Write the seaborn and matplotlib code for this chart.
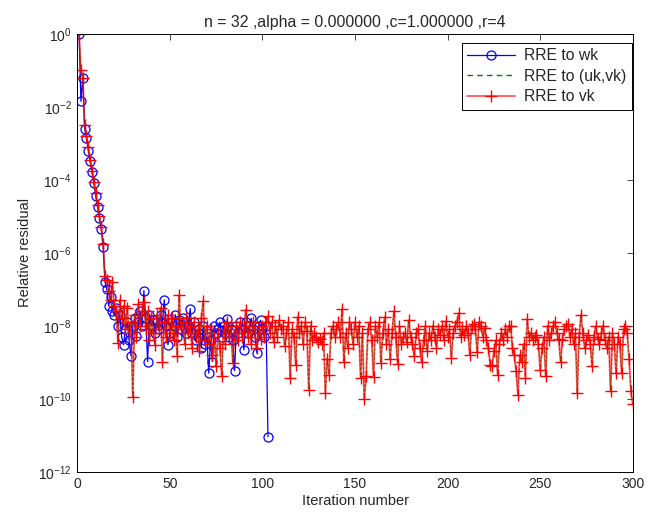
import numpy as np
import pandas as pd
import matplotlib
matplotlib.use("Agg")
import matplotlib.pyplot as plt
import seaborn as sns

# log10 of the relative residual
wk_exp = [
    0, -1.85, -1.2, -2.6, -2.85, -3.2, -3.5, -3.8, -4.1, -4.45,
    -4.75, -5.05, -5.35, -5.85, -6.8, -7.0, -7.45, -7.2, -7.6, -7.7,
    -7.5, -8.0, -7.7, -8.3, -8.52, -8.1, -7.9, -8.4, -8.82, -8.0,
    -7.8, -8.27, -7.9, -7.6, -8.0, -7.04, -7.8, -8.98, -7.7, -8.0,
    -7.85, -8.2, -7.9, -8.1, -7.7, -7.9, -7.29, -8.0, -8.52, -8.2,
    -7.9, -8.0, -7.7, -8.3, -7.85, -8.1, -7.8, -7.9, -8.2, -8.0,
    -7.53, -8.2, -7.9, -8.4, -8.3, -8.1, -8.61, -8.0, -8.5, -8.3,
    -9.3, -8.4, -8.98, -8.0, -8.2, -8.1, -7.9, -8.3, -8.0, -8.2,
    -7.82, -8.3, -8.1, -8.4, -9.23, -8.0, -8.2, -7.9, -8.1, -8.66,
    -7.9, -8.2, -8.0, -7.8, -8.1, -8.3, -8.75, -8.0, -7.85, -8.1,
    -8.3, -8.0, -11.04,
]

vk_exp = [
    0, -1.0, -1.2, -2.5, -2.8, -3.1, -3.45, -3.75, -4.05, -4.35,
    -4.7, -5.0, -5.3, -5.75, -6.65, -6.75, -7.05, -7.3, -6.8, -7.45,
    -7.6, -8.47, -7.3, -7.8, -7.45, -8.1, -7.5, -8.2, -7.9, -9.95,
    -7.7, -8.3, -7.4, -8.0, -7.6, -7.35, -8.1, -7.6, -8.4, -7.8,
    -8.2, -8.52, -7.7, -8.1, -7.5, -8.98, -7.9, -8.3, -7.7, -8.2,
    -7.8, -8.4, -8.0, -8.82, -7.15, -8.1, -7.9, -8.5, -7.8, -8.2,
    -8.0, -8.6, -7.9, -8.3, -8.1, -8.7, -7.8, -7.33, -8.4, -8.0,
    -8.5, -8.1, -8.8, -8.3, -9.11, -8.2, -8.6, -9.37, -8.1, -8.5,
    -7.9, -8.3, -8.0, -9.02, -8.2, -8.0, -8.4, -7.9, -8.3, -8.1,
    -7.56, -8.3, -8.0, -8.5, -7.9, -8.2, -8.6, -8.1, -8.35, -8.0,
    -8.3, -7.9, -7.74, -8.2, -7.9, -8.45, -8.0, -8.3, -7.85, -8.1,
    -8.0, -8.55, -8.2, -7.9, -9.43, -8.1, -8.3, -9.07, -7.76, -8.2,
    -8.0, -8.5, -7.9, -8.15, -9.75, -8.0, -8.4, -8.2, -8.3, -8.45,
    -8.35, -8.5, -8.2, -9.83, -8.9, -9.34, -8.2, -8.0, -8.3, -8.1,
    -7.9, -8.3, -7.54, -9.0, -8.2, -8.6, -7.9, -8.1, -8.5, -7.9,
    -8.3, -8.0, -9.42, -8.2, -10.0, -9.39, -8.1, -7.9, -8.4, -9.4,
    -8.0, -8.3, -7.9, -9.02, -8.2, -7.76, -8.5, -8.1, -8.9, -8.2,
    -7.6, -8.3, -9.05, -8.0, -8.5, -8.3, -8.2, -8.45, -7.85, -8.3,
    -8.5, -8.84, -8.2, -8.1, -8.6, -9.0, -8.4, -8.0, -8.7, -8.2,
    -8.4, -8.0, -8.3, -8.6, -8.1, -8.25, -8.0, -8.4, -7.88, -8.3,
    -8.1, -8.89, -8.2, -8.0, -7.9, -7.65, -8.3, -8.1, -8.25, -8.0,
    -8.2, -8.8, -8.0, -7.95, -8.1, -8.73, -7.9, -8.0, -8.3, -8.05,
    -8.4, -8.6, -9.07, -9.1, -8.7, -8.4, -9.34, -8.5, -8.2, -8.4,
    -8.1, -8.3, -8.0, -8.0, -8.6, -8.8, -9.25, -9.89, -8.8, -9.0,
    -8.5, -9.43, -7.82, -8.3, -8.2, -8.4, -8.3, -8.25, -8.5, -9.2,
    -8.6, -8.3, -9.39, -8.0, -8.4, -8.2, -8.0, -7.9, -8.2, -8.35,
    -8.98, -8.4, -8.1, -8.0, -7.95, -8.3, -8.1, -8.5, -8.2, -9.84,
    -8.3, -7.7, -8.2, -8.6, -8.4, -8.25, -8.5, -9.11, -8.3, -8.0,
    -8.35, -8.5, -8.2, -8.0, -8.4, -8.6, -8.3, -9.8, -8.2, -8.5,
    -9.3, -8.3, -8.5, -9.3, -8.1, -8.02, -8.2, -8.9, -9.8, -10.14,
]

# (uk,vk) lies right under the vk curve in the reference
ukvk_exp = list(vk_exp)

wk = pd.DataFrame({"it": np.arange(1, len(wk_exp) + 1), "res": 10.0 ** np.array(wk_exp)})
ukvk = pd.DataFrame({"it": np.arange(1, len(ukvk_exp) + 1), "res": 10.0 ** np.array(ukvk_exp)})
vk = pd.DataFrame({"it": np.arange(1, len(vk_exp) + 1), "res": 10.0 ** np.array(vk_exp)})

sns.set_style("white")
plt.rcParams["font.family"] = ["Liberation Sans", "DejaVu Sans"]
plt.rcParams["xtick.direction"] = "in"
plt.rcParams["ytick.direction"] = "in"

fig = plt.figure(figsize=(6.49, 5.19), dpi=100)
ax = fig.add_axes([0.119, 0.091, 0.856, 0.844])

sns.lineplot(data=wk, x="it", y="res", ax=ax, color="blue", lw=0.9,
             marker="o", markersize=6.5, markerfacecolor="none",
             markeredgecolor="blue", markeredgewidth=0.9,
             estimator=None, label="RRE to wk")
sns.lineplot(data=ukvk, x="it", y="res", ax=ax, color="#008000", lw=0.6,
             linestyle="--", estimator=None, label="RRE to (uk,vk)")
sns.lineplot(data=vk, x="it", y="res", ax=ax, color=(1, 0, 0, 0.6), lw=1.4,
             marker="+", markersize=8, markeredgecolor="red",
             markeredgewidth=1.0, estimator=None, label="RRE to vk")

ax.set_yscale("log")
ax.set_xlim(0, 300)
ax.set_ylim(1e-12, 1)
ax.set_xticks(np.arange(0, 301, 50))
ax.set_yticks([10.0 ** k for k in range(-12, 1, 2)])
ax.minorticks_off()
ax.tick_params(axis="both", which="both", top=True, right=True,
               length=4, width=0.6, labelsize=10, pad=4)
for s in ax.spines.values():
    s.set_linewidth(0.7)
    s.set_color("black")

ax.set_xlabel("Iteration number", fontsize=10.5, labelpad=2)
ax.set_ylabel("Relative residual", fontsize=10.5, labelpad=4)
ax.set_title("n = 32 ,alpha = 0.000000 ,c=1.000000 ,r=4", fontsize=11.4, pad=5)

leg = ax.legend(loc="upper right", bbox_to_anchor=(0.998, 0.979),
                borderaxespad=0, fontsize=11.3, frameon=True, fancybox=False,
                edgecolor="black", framealpha=1, handlelength=3.0,
                borderpad=0.35, labelspacing=0.35, handletextpad=0.6)
leg.get_frame().set_linewidth(0.7)
# the dashed handle is drawn bolder in the reference legend
green_handle = leg.get_lines()[1]
green_handle.set_linewidth(1.0)
green_handle.set_dashes((4, 3))

fig.savefig("out.png", dpi=100)
